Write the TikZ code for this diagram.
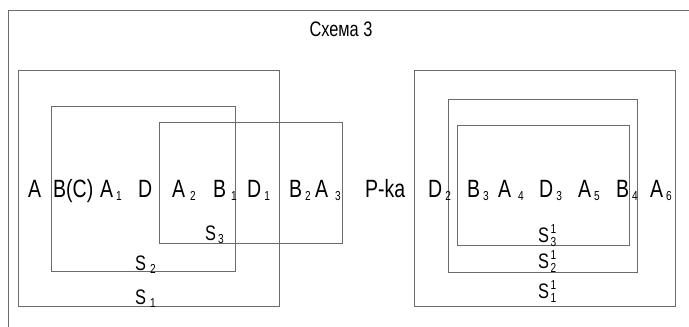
\documentclass[tikz,border=0pt]{standalone}
\usepackage{fontspec}
\setmainfont[FakeStretch=0.78]{Liberation Sans}
\usetikzlibrary{positioning}
\tikzset{
  box/.style={draw=black!58, line width=0.9pt},
  lbl/.style={anchor=base west, inner sep=0pt, font=\fontsize{25}{25}\selectfont},
  slbl/.style={anchor=base west, inner sep=0pt, font=\fontsize{21}{21}\selectfont},
}
\newcommand{\lowidx}[2][3pt]{\kern#1\raisebox{-3pt}{\fontsize{13}{13}\selectfont #2}}
\newcommand{\updown}[2]{\kern1.5pt\rlap{\raisebox{9pt}{\fontsize{13}{13}\selectfont #1}}\raisebox{-4pt}{\fontsize{13}{13}\selectfont #2}}

\begin{document}
\begin{tikzpicture}[x=1pt,y=-1pt]
   \useasboundingbox (0,0) rectangle (689,327);
   % frame and title
   \draw[box] (689,10) -- (8,10) -- (8,327);
   \node[font=\fontsize{21}{21}\selectfont, anchor=base, inner sep=0pt] (title) at (341,36) {Схема 3};

   % left scheme
   \draw[box] (18,70) rectangle (279,306);
   \draw[box] (51,106) rectangle (235,271);
   \draw[box] (159,122) rectangle (342,243);
   \node[lbl] (a)   at (28,197)  {A};
   \node[lbl] (bc)  at (53,197)  {B(C)};
   \node[lbl] (a1)  at (100,197) {A\lowidx{1}};
   \node[lbl] (d)   at (138,197) {D};
   \node[lbl] (a2)  at (172,197) {A\lowidx[5pt]{2}};
   \node[lbl] (b1)  at (213,197) {B\lowidx[5pt]{1}};
   \node[lbl] (d1)  at (247,197) {D\lowidx{1}};
   \node[lbl] (b2)  at (289,197) {B\lowidx{2}};
   \node[lbl] (a3)  at (315,197) {A\lowidx[7pt]{3}};
   \node[slbl] (s3) at (205,240) {S\lowidx[2pt]{3}};
   \node[slbl] (s2) at (135,270) {S\lowidx[4pt]{2}};
   \node[slbl] (s1) at (135,304) {S\lowidx[4pt]{1}};

   \node[lbl] (pka) at (365,197) {P-ka};

   % right scheme
   \draw[box] (414,70) rectangle (675,306);
   \draw[box] (448,99) rectangle (637,272);
   \draw[box] (457,125) rectangle (629,245);
   \node[lbl] (d2)  at (428,197) {D\lowidx{2}};
   \node[lbl] (b3)  at (467,197) {B\lowidx{3}};
   \node[lbl] (a4)  at (498,197) {A\lowidx[7pt]{4}};
   \node[lbl] (d3)  at (539,197) {D\lowidx{3}};
   \node[lbl] (a5)  at (578,197) {A\lowidx{5}};
   \node[lbl] (b4)  at (616,197) {B\lowidx{4}};
   \node[lbl] (a6)  at (650,197) {A\lowidx{6}};
   \node[slbl] (s31) at (538,242) {S\updown{1}{3}};
   \node[slbl] (s21) at (538,268) {S\updown{1}{2}};
   \node[slbl] (s11) at (538,298) {S\updown{1}{1}};
\end{tikzpicture}
\end{document}
